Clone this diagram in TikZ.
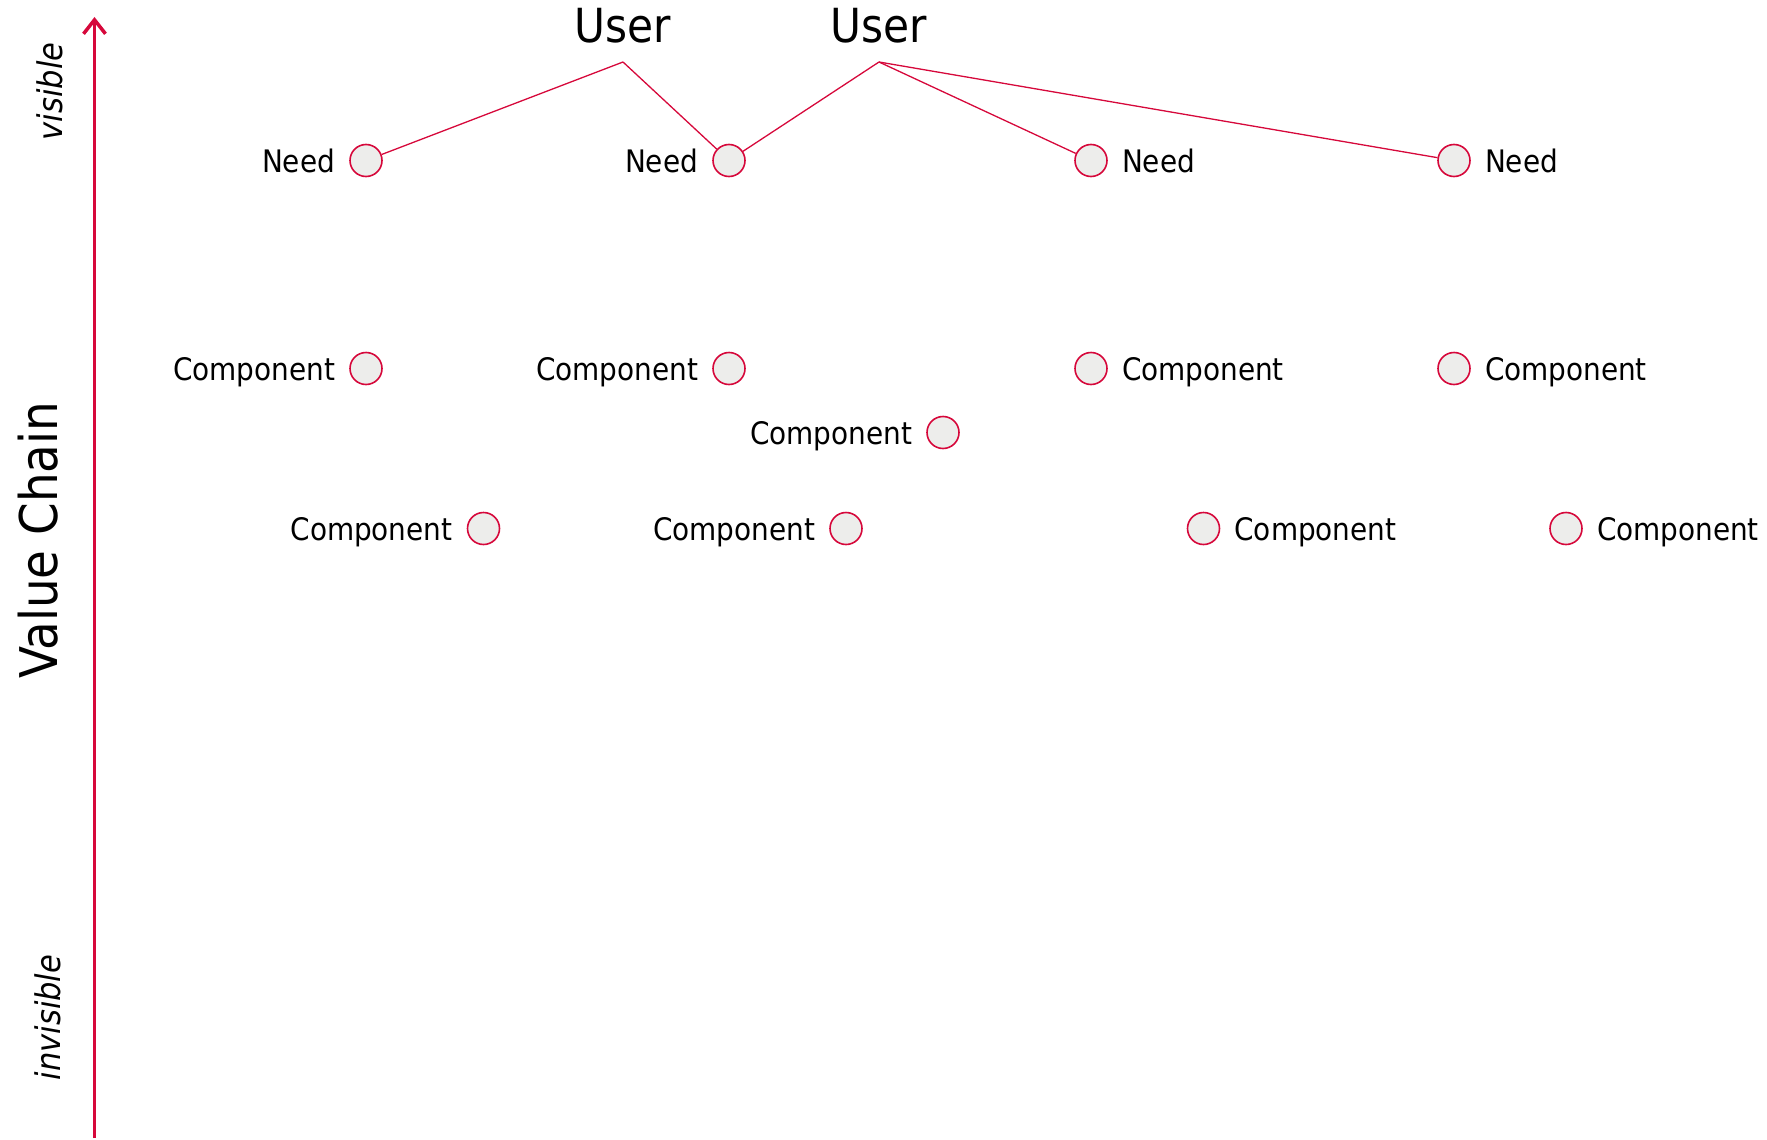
\documentclass[tikz,border=0pt]{standalone}
\usepackage{fontspec}
\setmainfont{DejaVu Sans Condensed}
\usetikzlibrary{arrows.meta, positioning}
\definecolor{chainred}{HTML}{D6083B}
\definecolor{dotgray}{HTML}{EDEDEB}

\begin{document}
\begin{tikzpicture}[x=1pt, y=-1pt,
  dot/.style={circle, draw=chainred, fill=dotgray, line width=1.6pt, minimum size=32pt, inner sep=0pt},
  link/.style={draw=chainred, line width=1.3pt},
  axis/.style={draw=chainred, line width=3.5pt, -{Straight Barb[length=14pt, width=22pt]}},
  lbl/.style={font=\fontsize{31}{36}\selectfont, inner sep=0pt, text height=24pt, text depth=0pt},
  user/.style={font=\fontsize{47}{56}\selectfont, inner xsep=0pt, inner ysep=19pt, anchor=south},
  side/.style={font=\fontsize{34}{40}\selectfont\itshape, rotate=90, inner sep=0pt}]

\useasboundingbox (0,0) rectangle (1767,1140);

\coordinate (bottom) at (94.5,1138);
\coordinate (top) at (94.5,17);
\draw[axis] (bottom) -- (top);
\node[font=\fontsize{52}{60}\selectfont, rotate=90, inner sep=0pt] (chain) at (38.5,540) {Value Chain};
\node[side] (visible) at (50,91.5) {visible};
\node[side] (invisible) at (47.5,1017.5) {invisible};

\node[user] (user1) at (623,62) {User};
\node[user] (user2) at (879,62) {User};

\node[dot] (need1) at (366,160.5) {};
\node[dot] (need2) at (729,160.5) {};
\node[dot] (need3) at (1091,160.5) {};
\node[dot] (need4) at (1454,160.5) {};
\node[lbl, left=14pt of need1] (needtxt1) {Need};
\node[lbl, left=14pt of need2] (needtxt2) {Need};
\node[lbl, right=14pt of need3] (needtxt3) {Need};
\node[lbl, right=14pt of need4] (needtxt4) {Need};

\draw[link] (user1.south) -- (need1);
\draw[link] (user1.south) -- (need2);
\draw[link] (user2.south) -- (need2);
\draw[link] (user2.south) -- (need3);
\draw[link] (user2.south) -- (need4);

\node[dot] (comp1) at (366,368.5) {};
\node[dot] (comp2) at (729,368.5) {};
\node[dot] (comp3) at (1091,368.5) {};
\node[dot] (comp4) at (1454,368.5) {};
\node[lbl, left=14pt of comp1] (comptxt1) {Component};
\node[lbl, left=14pt of comp2] (comptxt2) {Component};
\node[lbl, right=14pt of comp3] (comptxt3) {Component};
\node[lbl, right=14pt of comp4] (comptxt4) {Component};

\node[dot] (comp5) at (943,432.5) {};
\node[lbl, left=14pt of comp5] (comptxt5) {Component};

\node[dot] (comp6) at (483.5,528.5) {};
\node[dot] (comp7) at (846,528.5) {};
\node[dot] (comp8) at (1203.5,528.5) {};
\node[dot] (comp9) at (1566,528.5) {};
\node[lbl, left=14pt of comp6] (comptxt6) {Component};
\node[lbl, left=14pt of comp7] (comptxt7) {Component};
\node[lbl, right=14pt of comp8] (comptxt8) {Component};
\node[lbl, right=14pt of comp9] (comptxt9) {Component};

\end{tikzpicture}
\end{document}
